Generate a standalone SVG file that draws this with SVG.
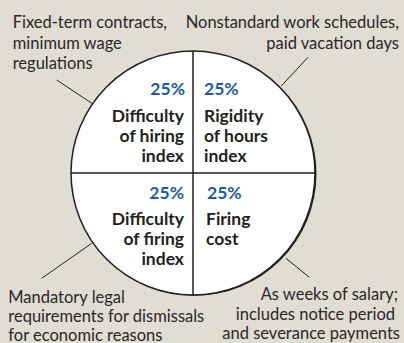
<svg xmlns="http://www.w3.org/2000/svg" width="404" height="343" viewBox="0 0 404 343">
<style>
.note{font-family:Lato,"Open Sans",sans-serif;font-size:16.5px;fill:#2b2728}
.lab{font-family:Lato,"Open Sans",sans-serif;font-size:17.5px;font-weight:bold;fill:#231f20}
.pct{font-family:Lato,"Open Sans",sans-serif;font-size:17.5px;font-weight:bold;fill:#1c5aa2}
.end{text-anchor:end}
.lead{stroke:#231f20;stroke-width:1;fill:none}
</style>
<rect width="404" height="343" fill="#e0ddd3"/>
<g id="pie">
<circle cx="194.5" cy="173.7" r="122" fill="#231f20"/>
<circle cx="193" cy="173" r="122" fill="#fff" stroke="#231f20" stroke-width="1.5"/>
<line x1="193" y1="51" x2="193" y2="295" stroke="#231f20" stroke-width="1.5"/>
<line x1="71" y1="173" x2="315" y2="173" stroke="#231f20" stroke-width="1.5"/>
</g>
<g id="connectors">
<line class="lead" x1="56.7" y1="80" x2="93" y2="104"/>
<line class="lead" x1="308" y1="57.3" x2="281.3" y2="86"/>
<line class="lead" x1="41.7" y1="278.3" x2="91.7" y2="243.3"/>
<line class="lead" x1="286" y1="258.3" x2="309.3" y2="277.3"/>
</g>
<g id="q-hiring">
<text class="pct end" x="185" y="95">25%</text>
<text class="lab end" x="184" y="122">Difficulty</text>
<text class="lab end" x="184" y="142">of hiring</text>
<text class="lab end" x="184" y="162">index</text>
</g>
<g id="q-hours">
<text class="pct" x="204" y="95">25%</text>
<text class="lab" x="204" y="122">Rigidity</text>
<text class="lab" x="204" y="142">of hours</text>
<text class="lab" x="204" y="162">index</text>
</g>
<g id="q-firing">
<text class="pct end" x="184" y="199">25%</text>
<text class="lab end" x="184" y="225">Difficulty</text>
<text class="lab end" x="184" y="245">of firing</text>
<text class="lab end" x="184" y="265">index</text>
</g>
<g id="q-cost">
<text class="pct" x="207" y="199">25%</text>
<text class="lab" x="206" y="225">Firing</text>
<text class="lab" x="206" y="245">cost</text>
</g>
<g id="note-tl">
<text class="note" x="12.7" y="28">Fixed-term contracts,</text>
<text class="note" x="12.7" y="48.5">minimum wage</text>
<text class="note" x="12.7" y="69">regulations</text>
</g>
<g id="note-tr">
<text class="note end" x="399" y="28">Nonstandard work schedules,</text>
<text class="note end" x="399" y="49">paid vacation days</text>
</g>
<g id="note-bl">
<text class="note" x="8.3" y="303">Mandatory legal</text>
<text class="note" x="8.3" y="322">requirements for dismissals</text>
<text class="note" x="8.3" y="340.5">for economic reasons</text>
</g>
<g id="note-br">
<text class="note end" x="398" y="300">As weeks of salary;</text>
<text class="note end" x="395" y="320">includes notice period</text>
<text class="note end" x="400" y="339">and severance payments</text>
</g>
</svg>
